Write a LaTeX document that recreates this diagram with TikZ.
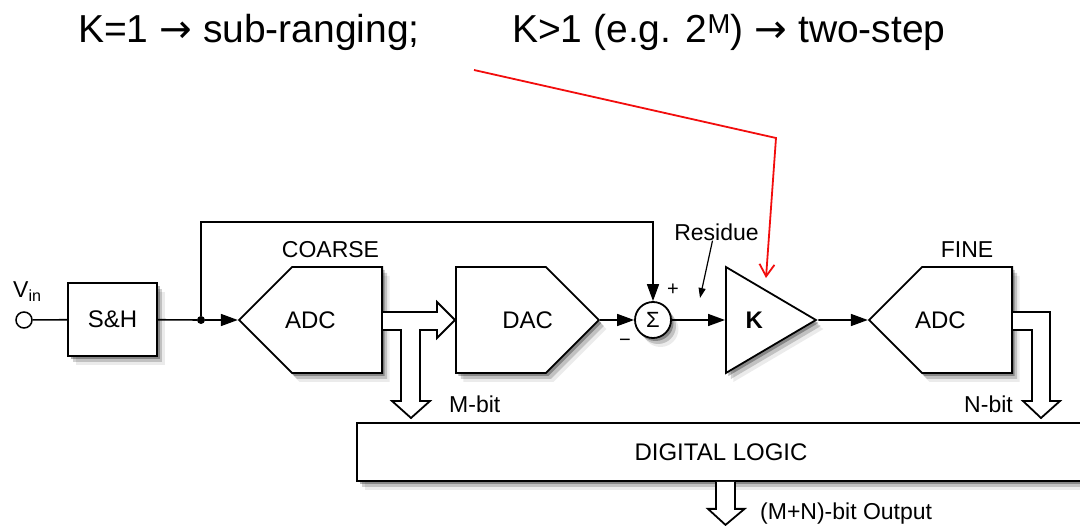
\documentclass[tikz,border=0pt]{standalone}
\usepackage{fontspec}
\setmainfont{Liberation Sans}
\newfontfamily\arrowfont{DejaVu Sans}
\usepackage{tikz}
\usetikzlibrary{arrows.meta,positioning,shapes.geometric,shapes.symbols,shadows,calc}
\definecolor{annotred}{HTML}{F20D0D}

\tikzset{
  softshadow/.style={drop shadow={shadow xshift=2.5pt,shadow yshift=-3pt,opacity=.3,fill=black},
                     drop shadow={shadow xshift=5pt,shadow yshift=-6pt,opacity=.18,fill=black},
                     drop shadow={shadow xshift=7.5pt,shadow yshift=-9pt,opacity=.08,fill=black}},
  blk/.style={draw,line width=1.8pt,fill=white,softshadow,inner sep=0pt,
              font=\fontsize{24}{28}\selectfont},
  blktxt/.style={inner sep=0pt,font=\fontsize{24}{28}\selectfont},
  adcshape/.style={signal,signal to=west,signal pointer angle=90,
                   minimum width=143pt,minimum height=106pt},
  dacshape/.style={signal,signal to=east,signal pointer angle=90,
                   minimum width=143pt,minimum height=106pt},
  kshape/.style={isosceles triangle,isosceles triangle stretches,shape border rotate=0,
                 minimum width=106pt,minimum height=90pt},
  lbl/.style={inner sep=0pt,font=\fontsize{23}{27}\selectfont},
  signlbl/.style={inner sep=0pt,font=\fontsize{20}{24}\selectfont},
  titletxt/.style={inner sep=0pt,font=\fontsize{39}{46}\selectfont},
  wire/.style={line width=1.6pt},
  arr/.style={-{Triangle[length=17pt,width=12pt]}},
  bus/.style={line width=1.8pt,fill=white,line join=miter},
  redarrow/.style={draw=annotred,line width=1.8pt,-{Straight Barb[length=12pt,width=15pt]}},
}

\begin{document}
\begin{tikzpicture}[x=1pt,y=-1pt]
  \clip (0,0) rectangle (1080,526);

  % headline
  \node[titletxt,anchor=base west] (ksub) at (78,43) {K=1 {\arrowfont →} sub-ranging;};
  \node[titletxt,anchor=base west] (kstep) at (512,43)
    {K>1 (e.g. 2\textsuperscript{M}) {\arrowfont →} two-step};

  % blocks
  \node[circle,draw,line width=1.5pt,minimum size=16pt,inner sep=0pt] (vin) at (24,320) {};
  \node[lbl,anchor=base west] (vinlbl) at (13,298) {V\textsubscript{in}};
  \node[blk,minimum width=89pt,minimum height=73pt] (sh) at (112.5,319.5) {S\&H};
  \node[circle,fill,inner sep=0pt,minimum size=8pt] (tap) at (201,320) {};
  \node[blk,adcshape,anchor=east] (cadc) at (383,320) {};
  \node[blktxt] (cadctxt) at ($(cadc.west)!.5!(cadc.east)$) {ADC};
  \node[lbl] (coarse) at (330.5,250) {COARSE};
  \node[blk,dacshape,anchor=west] (dac) at (455,320) {};
  \node[blktxt] (dactxt) at ($(dac.west)!.5!(dac.east)$) {DAC};
  \node[blk,circle,minimum size=36pt,font=\fontsize{22}{26}\selectfont] (sum) at (653,320) {Σ};
  \node[blk,kshape,anchor=lower side] (kamp) at (725,320) {\bfseries K};
  \node[blk,adcshape,anchor=east] (fadc) at (1013,320) {};
  \node[blktxt] (fadctxt) at ($(fadc.west)!.5!(fadc.east)$) {ADC};
  \node[lbl] (fine) at (967,250) {FINE};
  \node[blk,minimum width=728pt,minimum height=58pt] (logic) at (721,452) {DIGITAL LOGIC};

  % labels
  \node[lbl] (resid) at (716.5,232) {Residue};
  \node[signlbl] (plus) at (673,290) {+};
  \node[signlbl] (minus) at (625,343) {−};

  % signal path
  \draw[wire] (vin) -- (sh);
  \draw[wire] (sh) -- (tap);
  \draw[wire,arr] (tap) -- (cadc.west);
  \coordinate (fbk) at (653,222);
  \draw[wire,arr] (tap) |- (fbk) -- (sum);
  \draw[wire,arr] (dac.east) -- (sum);
  \draw[wire,arr] (sum) -- (kamp);
  \draw[wire,arr] (kamp) -- (fadc.west);

  % buses
  \draw[bus] ([yshift=8pt]cadc.east) -- ++(54,0) -- ++(0,-10) -- (dac.west) -- ++(-18,18)
    -- ++(0,-8) -- ++(-17,0) -- ++(0,71) -- ++(10,0) -- ++(-19,17) -- ++(-19,-17)
    -- ++(9,0) -- ++(0,-71) -- ([yshift=-10pt]cadc.east);
  \draw[bus] ([yshift=8pt]fadc.east) -- ++(37,0) -- ++(0,89) -- ++(10,0) -- ++(-19,17)
    -- ++(-18,-17) -- ++(9,0) -- ++(0,-71) -- ([yshift=-10pt]fadc.east);
  \draw[bus] ([xshift=-5pt]logic.south) -- ++(0,27) -- ++(-8,0) -- ++(17.5,16)
    -- ++(19,-16) -- ++(-9.5,0) -- ++(0,-27);
  \node[lbl,anchor=base west] (mbit) at (449,413) {M-bit};
  \node[lbl,anchor=base east] (nbit) at (1013,413) {N-bit};
  \node[lbl,anchor=base west] (outlbl) at (760,520) {(M+N)-bit Output};

  % annotations
  \coordinate (residpt) at (700,298);
  \draw[line width=1.2pt,-{Triangle[length=10pt,width=7pt]}] ([xshift=-4pt]resid.south) -- (residpt);
  \coordinate (redstart) at (474,70);
  \coordinate (redbend) at (776,138);
  \coordinate (ktop) at (766,278);
  \draw[redarrow] (redstart) -- (redbend) -- (ktop);
\end{tikzpicture}
\end{document}
